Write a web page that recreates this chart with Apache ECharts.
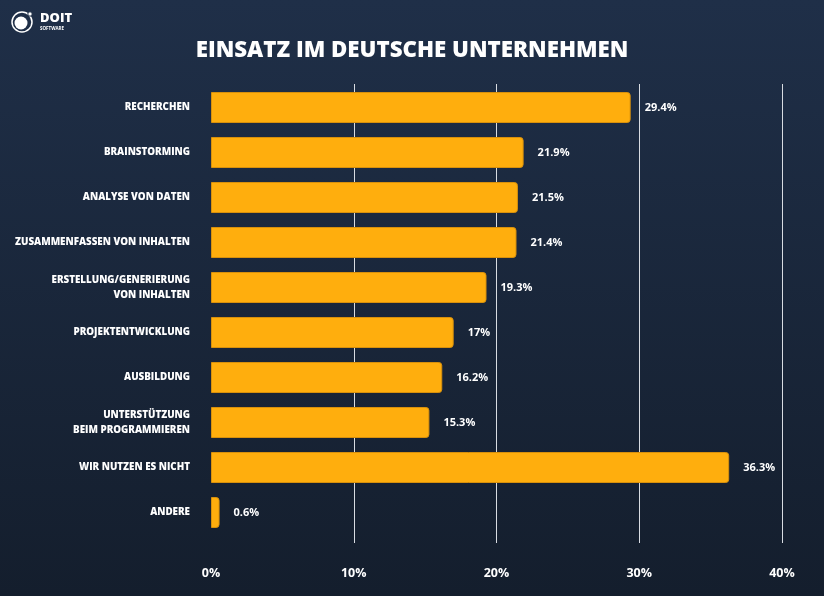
<!DOCTYPE html>
<html><head><meta charset="utf-8">
<script src="https://cdn.jsdelivr.net/npm/echarts@6/dist/echarts.min.js"></script>
<style>html,body{margin:0;padding:0;}#c{width:824px;height:596px;}</style>
</head><body><div id="c"></div>
<script>
var categories = ['RECHERCHEN','BRAINSTORMING','ANALYSE VON DATEN','ZUSAMMENFASSEN VON INHALTEN','ERSTELLUNG/GENERIERUNG\nVON INHALTEN','PROJEKTENTWICKLUNG','AUSBILDUNG','UNTERSTÜTZUNG\nBEIM PROGRAMMIEREN','WIR NUTZEN ES NICHT','ANDERE'];
var values = [29.4, 21.9, 21.5, 21.4, 19.3, 17, 16.2, 15.3, 36.3, 0.6];
var xTicks = [0, 10, 20, 30, 40];

var chart = echarts.init(document.getElementById('c'));
var font = '"Open Sans", sans-serif';
chart.setOption({
  backgroundColor: {type:'linear', x:0, y:0, x2:0, y2:1, colorStops:[{offset:0,color:'#1f2f48'},{offset:1,color:'#141e2d'}]},
  title: {text:'EINSATZ IM DEUTSCHE UNTERNEHMEN', left:'center', top:35,
    textStyle:{color:'#ffffff', fontFamily:font, fontWeight:800, fontSize:22.3}},
  graphic: [
    {type:'circle', shape:{cx:22, cy:22, r:10}, style:{fill:'none', stroke:'#ffffff', lineWidth:1.5}},
    {type:'circle', shape:{cx:21, cy:23, r:6.5}, style:{fill:'#ffffff'}},
    {type:'circle', shape:{cx:30, cy:14, r:2.2}, style:{fill:'#ffffff', stroke:'#1f2f48', lineWidth:1}},
    {type:'text', left:40, top:12, style:{text:'DOIT', fill:'#ffffff', font:'800 13px "Open Sans", sans-serif'}},
    {type:'text', left:40, top:26, style:{text:'SOFTWARE', fill:'#ffffff', font:'700 4.5px "Open Sans", sans-serif'}}
  ],
  grid: [
    {left:211, right:42, top:85, height:450},
    {left:211, right:42, top:84, bottom:53}
  ],
  xAxis: [
    {gridIndex:0, type:'value', min:0, max:40, interval:10, show:false},
    {gridIndex:1, type:'value', min:0, max:40, interval:10,
      axisLine:{show:false}, axisTick:{show:false},
      splitLine:{show:true, lineStyle:{color:['rgba(0,0,0,0)','#d8dce2','#d8dce2','#d8dce2','#d8dce2'], width:1}},
      axisLabel:{color:'#ffffff', fontFamily:font, fontWeight:700, fontSize:12.5, margin:24,
        formatter:function(v){return v+'%';}, showMinLabel:true, showMaxLabel:true}}
  ],
  yAxis: [
    {gridIndex:0, type:'category', data:categories, inverse:true,
      axisLine:{show:false}, axisTick:{show:false},
      axisLabel:{color:'#ffffff', fontFamily:font, fontWeight:800, fontSize:9.8, margin:21, lineHeight:15, align:'right'}},
    {gridIndex:1, type:'value', min:0, max:1, show:false}
  ],
  series: [
    {type:'bar', xAxisIndex:0, yAxisIndex:0, data:values, barWidth:31,
      itemStyle:{color:'#ffae0d', borderColor:'#d8900c', borderWidth:1, borderRadius:[0,3,3,0]},
      label:{show:true, position:'right', distance:14, color:'#ffffff', fontFamily:font, fontWeight:700, fontSize:11,
        formatter:function(p){return p.value+'%';}}},
    {type:'scatter', xAxisIndex:1, yAxisIndex:1, data:[], silent:true}
  ]
});
</script></body></html>
